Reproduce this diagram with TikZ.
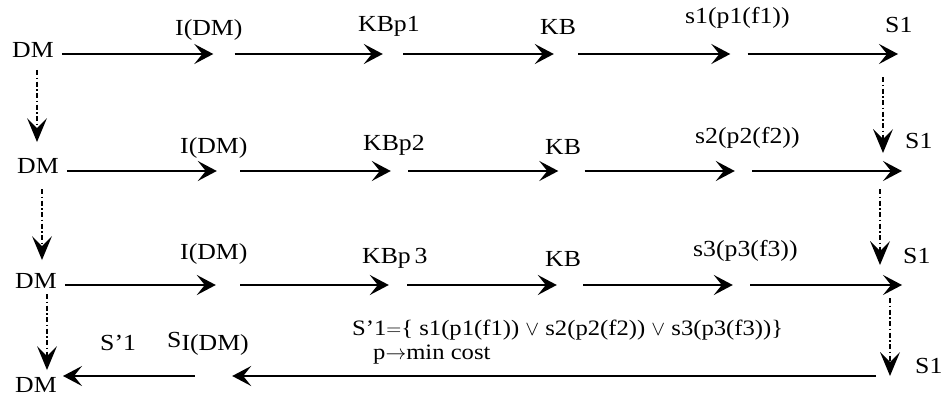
\documentclass[tikz,border=0pt]{standalone}
\usepackage{fontspec}
\setmainfont[FakeStretch=1.12]{Liberation Serif}
\usetikzlibrary{arrows.meta}
\begin{document}
\begin{tikzpicture}[x=1pt,y=-1pt,
  lbl/.style={inner sep=0pt, anchor=base west, font=\fontsize{23}{25}\selectfont},
  small/.style={inner sep=0pt, anchor=base west, font=\fontsize{22}{24}\selectfont},
  gap/.style={inner sep=0pt, minimum height=0pt, draw=none},
  arr/.style={line width=2pt, -{Stealth[length=19pt,width=20pt,inset=8pt]}},
  vdash/.style={line width=1.2pt, dash pattern=on 5pt off 2.5pt on 1.5pt off 2.5pt,
    -{Stealth[length=24pt,width=20pt,inset=10pt,line width=0pt]}}]
\useasboundingbox (0,0) rectangle (942,396);
\fill[white] (0,0) rectangle (942,396);

% ---------- row 1 ----------
\node[lbl] (dm1) at (12,58) {DM};
\node[lbl] (l11) at (175,36) {I(DM)};
\node[lbl] (l12) at (358,32) {KBp1};
\node[lbl] (l13) at (540,35) {KB};
\node[lbl] (l14) at (685,24) {s1(p1(f1))};
\node[lbl] (s11) at (885,33) {S1};
\node[gap, minimum width=21pt] (g11) at (224,54) {};
\node[gap, minimum width=20pt] (g12) at (393,54) {};
\node[gap, minimum width=24pt] (g13) at (566,54) {};
\node[gap, minimum width=17pt] (g14) at (739,54) {};
\coordinate (e1) at (898,54);
\draw[arr, shorten <=8pt] (dm1.east |- g11) -- (g11.west);
\draw[arr] (g11.east) -- (g12.west);
\draw[arr] (g12.east) -- (g13.west);
\draw[arr] (g13.east) -- (g14.west);
\draw[arr] (g14.east) -- (e1);

% ---------- row 2 ----------
\node[lbl] (dm2) at (17,173) {DM};
\node[lbl] (l21) at (180,153) {I(DM)};
\node[lbl] (l22) at (363,150) {KBp2};
\node[lbl] (l23) at (545,154) {KB};
\node[lbl] (l24) at (695,143) {s2(p2(f2))};
\node[lbl] (s12) at (905,148) {S1};
\node[gap, minimum width=23pt] (g21) at (228.5,171) {};
\node[gap, minimum width=17pt] (g22) at (399.5,171) {};
\node[gap, minimum width=26pt] (g23) at (571.5,171) {};
\node[gap, minimum width=17pt] (g24) at (743.5,171) {};
\coordinate (e2) at (902,171);
\draw[arr, shorten <=8pt] (dm2.east |- g21) -- (g21.west);
\draw[arr] (g21.east) -- (g22.west);
\draw[arr] (g22.east) -- (g23.west);
\draw[arr] (g23.east) -- (g24.west);
\draw[arr] (g24.east) -- (e2);

% ---------- row 3 ----------
\node[lbl] (dm3) at (15,288) {DM};
\node[lbl] (l31) at (180,259) {I(DM)};
\node[lbl] (l32) at (362,263) {KBp\,3};
\node[lbl] (l33) at (545,266) {KB};
\node[lbl] (l34) at (693,256) {s3(p3(f3))};
\node[lbl] (s13) at (903,263) {S1};
\node[gap, minimum width=24pt] (g31) at (228,285) {};
\node[gap, minimum width=18pt] (g32) at (398,285) {};
\node[gap, minimum width=26pt] (g33) at (570,285) {};
\node[gap, minimum width=17pt] (g34) at (741.5,285) {};
\coordinate (e3) at (902,285);
\draw[arr, shorten <=8pt] (dm3.east |- g31) -- (g31.west);
\draw[arr] (g31.east) -- (g32.west);
\draw[arr] (g32.east) -- (g33.west);
\draw[arr] (g33.east) -- (g34.west);
\draw[arr] (g34.east) -- (e3);

% ---------- row 4 ----------
\node[lbl] (dm4) at (15,392) {DM};
\node[lbl] (l41) at (100,350) {S’1};
\node[lbl] (l42) at (167,350) {\raisebox{3pt}{S}I(DM)};
\node[small] (l43) at (352,335) {S’1$=$\{ s1(p1(f1)) $\vee$ s2(p2(f2)) $\vee$ s3(p3(f3))\}};
\node[small] (l44) at (373,359) {p$\rightarrow$min cost};
\node[lbl] (s14) at (915,373) {S1};
\coordinate (e4) at (876,376);
\node[gap, minimum width=37pt] (g41) at (213.5,376) {};
\coordinate (d4) at (63,376);
\draw[arr] (e4) -- (g41.east);
\draw[arr] (g41.west) -- (d4);

% ---------- vertical dash-dot arrows ----------
\coordinate (va1) at (37,70);  \coordinate (vb1) at (37,142);
\coordinate (va2) at (42,189); \coordinate (vb2) at (42,260);
\coordinate (va3) at (47,294); \coordinate (vb3) at (47,370);
\coordinate (wa1) at (883,77);  \coordinate (wb1) at (883,153);
\coordinate (wa2) at (880,189); \coordinate (wb2) at (880,265);
\coordinate (wa3) at (890,298); \coordinate (wb3) at (890,376);
\draw[vdash] (va1) -- (vb1);
\draw[vdash] (va2) -- (vb2);
\draw[vdash] (va3) -- (vb3);
\draw[vdash] (wa1) -- (wb1);
\draw[vdash] (wa2) -- (wb2);
\draw[vdash] (wa3) -- (wb3);
\end{tikzpicture}
\end{document}
